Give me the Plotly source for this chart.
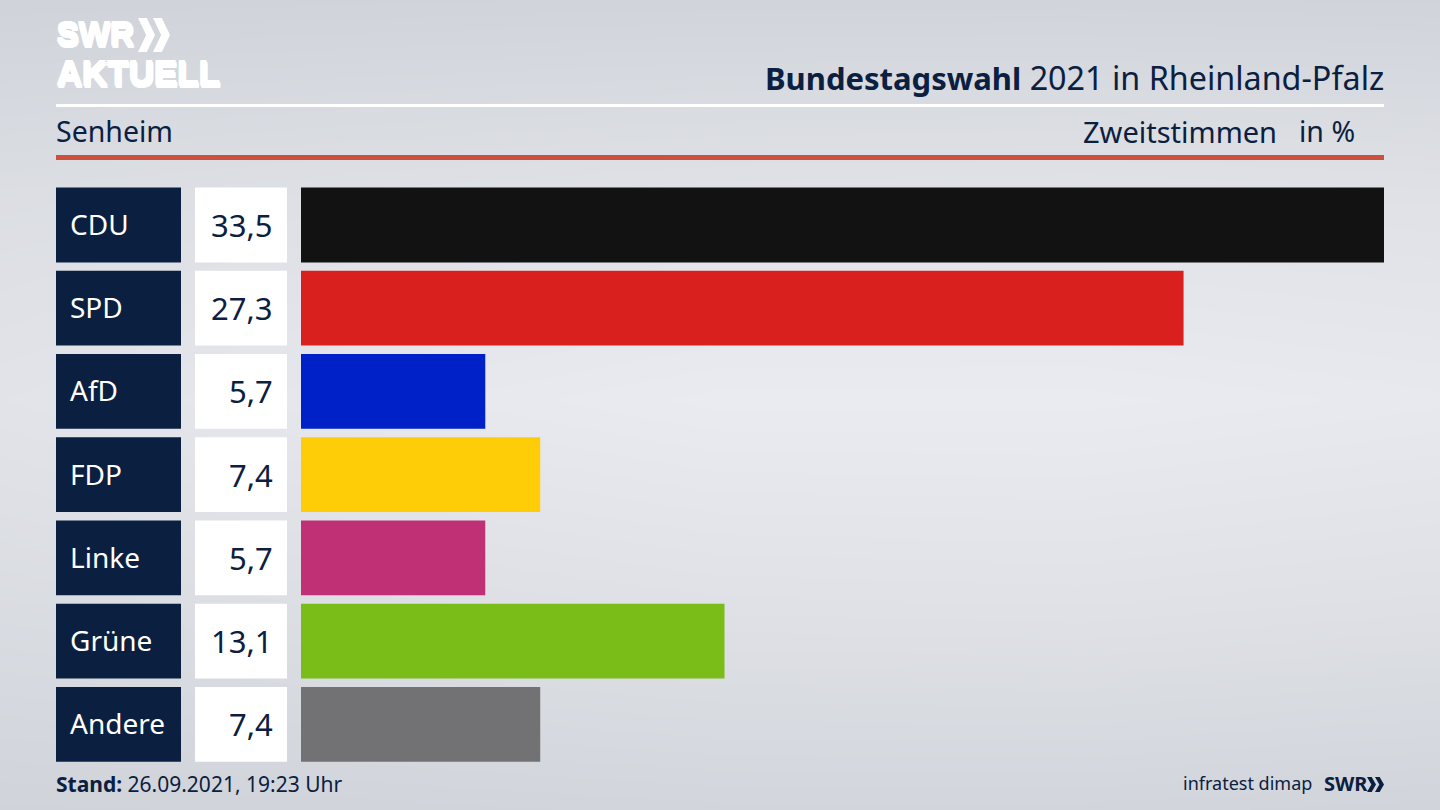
import plotly.graph_objects as go

W, H = 1440, 810

parteien = ["CDU", "SPD", "AfD", "FDP", "Linke", "Grüne", "Andere"]
werte = [33.5, 27.3, 5.7, 7.4, 5.7, 13.1, 7.4]
farben = ["#121212", "#da201f", "#0021c8", "#ffcc08", "#bf3075", "#7abd18", "#727274"]

NAVY = "#0b2040"
FONT = "Noto Sans"
LOGO_FONT = "Liberation Sans"
# macht die logo-schrift dicker und etwas hoeher
LOGO_SHADOW = "0 2px 0 #fff, 0 -2px 0 #fff, 1px 0 0 #fff, -1px 0 0 #fff, 1px 2px 0 #fff, -1px -2px 0 #fff"

# hintergrund, grauwerte von oben nach unten
bg_x = [0, 360, 720, 1080, 1440]
bg_y = [0, 200, 400, 600, 810]
bg_z = [
    [0.12, 0.14, 0.16, 0.16, 0.14],
    [0.52, 0.60, 0.66, 0.68, 0.64],
    [0.72, 0.88, 1.00, 1.00, 0.92],
    [0.46, 0.56, 0.64, 0.66, 0.60],
    [0.14, 0.16, 0.20, 0.20, 0.16],
]


def px_x(x):
    return x / W


def px_y(y):
    return 1 - y / H


def balken(x, color, axis):
    return go.Bar(x=x, y=parteien, orientation="h", marker=dict(color=color, line_width=0),
                  xaxis=axis, yaxis="y2", hoverinfo="skip", showlegend=False)


def text(x, y, s, size, color=NAVY, anchor="left", family=FONT, shadow="none"):
    return dict(x=px_x(x), y=px_y(y), xref="paper", yref="paper", text=s, showarrow=False,
                xanchor=anchor, yanchor="middle", align=anchor, borderpad=0, borderwidth=0,
                font=dict(family=family, size=size, color=color, shadow=shadow))


def rechteck(x0, y0, x1, y1, color):
    return dict(type="rect", xref="paper", yref="paper", x0=px_x(x0), x1=px_x(x1),
                y0=px_y(y0), y1=px_y(y1), fillcolor=color, line_width=0)


def chevron(x, top, b, h, color):
    # ein pfeil vom logo, in pixeln
    d = b * 0.52
    pts = [(x, top), (x + d, top), (x + b, top + h / 2), (x + d, top + h), (x, top + h), (x + b - d, top + h / 2)]
    path = "M " + " L ".join(f"{px_x(a):.5f} {px_y(c):.5f}" for a, c in pts) + " Z"
    return dict(type="path", xref="paper", yref="paper", path=path, fillcolor=color, line_width=0)


fig = go.Figure()
fig.add_trace(go.Heatmap(x=bg_x, y=bg_y, z=bg_z, zsmooth="best", showscale=False, hoverinfo="skip",
                         zmin=0, zmax=1, colorscale=[[0, "#ccd0d6"], [1, "#eaebf0"]]))
fig.add_trace(balken([1] * len(parteien), NAVY, "x2"))
fig.add_trace(balken([1] * len(parteien), "#ffffff", "x3"))
fig.add_trace(balken(werte, farben, "x4"))

annotations = []
for p, v in zip(parteien, werte):
    annotations.append(dict(x=px_x(70), y=p, xref="paper", yref="y2", text=p, showarrow=False, xanchor="left",
                            borderpad=0, borderwidth=0, yshift=1,
                            font=dict(family=FONT, size=28, color="#ffffff")))
    annotations.append(dict(x=px_x(273), y=p, xref="paper", yref="y2", text=f"{v:.1f}".replace(".", ","),
                            showarrow=False, xanchor="right", borderpad=0, borderwidth=0,
                            font=dict(family=FONT, size=31, color=NAVY)))

annotations += [
    text(57, 35, "<b>SWR</b>", 33, "#ffffff", family=LOGO_FONT, shadow=LOGO_SHADOW),
    text(57, 73, "<b>AKTUELL</b>", 35, "#ffffff", family=LOGO_FONT, shadow=LOGO_SHADOW),
    text(1384, 77, '<span style="font-size:31px"><b>Bundestagswahl</b></span> 2021 in Rheinland-Pfalz', 32.3,
         anchor="right"),
    text(56, 131, "Senheim", 28.5),
    text(1277, 131, "Zweitstimmen", 29, anchor="right"),
    text(1355, 131, "in %", 28.5, anchor="right"),
    text(56, 784, "<b>Stand:</b> 26.09.2021, 19:23 Uhr", 21),
    text(1312, 783, "infratest dimap", 18, anchor="right"),
    text(1324, 783, "<b>SWR</b>", 20),
]

shapes = [
    rechteck(56, 104, 1384, 107, "#ffffff"),
    rechteck(56, 155, 1384, 160, "#cd4f3e"),
    chevron(138, 18, 17, 34, "#ffffff"),
    chevron(153, 18, 17, 34, "#ffffff"),
    chevron(1367, 777, 9, 15, NAVY),
    chevron(1375, 777, 9, 15, NAVY),
]

hidden = dict(visible=False, fixedrange=True)
fig.update_layout(
    width=W, height=H, margin=dict(l=0, r=0, t=0, b=0), showlegend=False,
    paper_bgcolor="#dfe0e5", plot_bgcolor="rgba(0,0,0,0)", bargap=0.1,
    xaxis=dict(hidden, range=[0, 1440]),
    yaxis=dict(hidden, range=[810, 0]),
    xaxis2=dict(hidden, domain=[px_x(56), px_x(181)], range=[0, 1], anchor="y2"),
    xaxis3=dict(hidden, domain=[px_x(195), px_x(287)], range=[0, 1], anchor="y2"),
    xaxis4=dict(hidden, domain=[px_x(301), px_x(1384)], range=[0, max(werte)], anchor="y2"),
    yaxis2=dict(hidden, domain=[px_y(766), px_y(183.3)], autorange="reversed", anchor="x2"),
    annotations=annotations,
    shapes=shapes,
)

fig.write_html("out.html", config=dict(displayModeBar=False),
               post_script="document.body.style.margin='0';document.body.style.overflow='hidden';")
